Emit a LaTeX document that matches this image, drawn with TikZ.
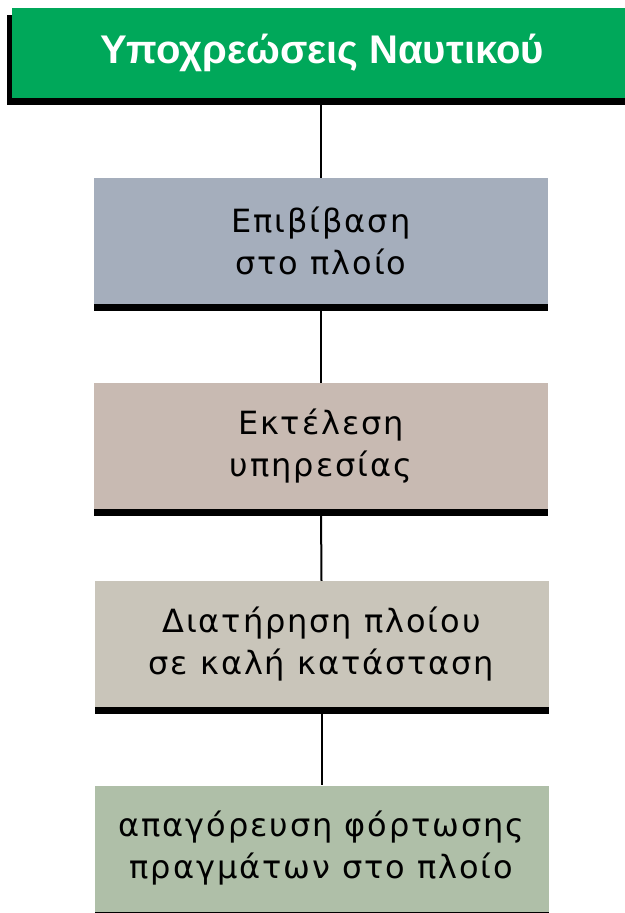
\documentclass[tikz,border=0pt]{standalone}
\usepackage{fontspec}
\setmainfont{DejaVu Sans}[LetterSpace=6]
\newfontfamily\titlefont{Liberation Sans}
\usetikzlibrary{shadows}
\definecolor{titlegreen}{HTML}{00A85A}
\definecolor{boxblue}{HTML}{A5AEBC}
\definecolor{boxrose}{HTML}{C8BAB2}
\definecolor{boxbeige}{HTML}{C9C5BA}
\definecolor{boxsage}{HTML}{AFBFA8}
\tikzset{
  titlebox/.style={fill=titlegreen, text=white, inner sep=0pt,
    minimum width=620pt, minimum height=90pt,
    font=\titlefont\bfseries\fontsize{40}{44}\selectfont,
    drop shadow={shadow xshift=-5pt, shadow yshift=-7pt, fill=black, opacity=1}},
  stagebox/.style={inner sep=0pt, minimum width=454pt, minimum height=126pt,
    align=center, text=black,
    font=\fontsize{32}{42}\selectfont,
    drop shadow={shadow xshift=0pt, shadow yshift=-7pt, fill=black, opacity=1}},
  link/.style={draw=black, line width=2pt}
}
\begin{document}
\begin{tikzpicture}[x=1pt,y=-1pt]
\useasboundingbox (0,0) rectangle (624,913);
\node[titlebox] (title) at (322,53) {Υποχρεώσεις Ναυτικού};
\node[stagebox, fill=boxblue] (b1) at (321,241) {Επιβίβαση\\στο πλοίο};
\node[stagebox, fill=boxrose] (b2) at (321,446) {Εκτέλεση\\υπηρεσίας};
\node[stagebox, fill=boxbeige] (b3) at (321.5,644) {Διατήρηση πλοίου\\σε καλή κατάσταση};
\node[stagebox, fill=boxsage] (b4) at (321.5,848.5) {απαγόρευση φόρτωσης\\πραγμάτων στο πλοίο};
\draw[link] (b1.north |- title.south) -- (b1.north);
\draw[link] (b1.south) -- (b2.north);
\draw[link] (b2.south) -- (b3.north);
\draw[link] (b3.south) -- (b4.north);
\end{tikzpicture}
\end{document}
